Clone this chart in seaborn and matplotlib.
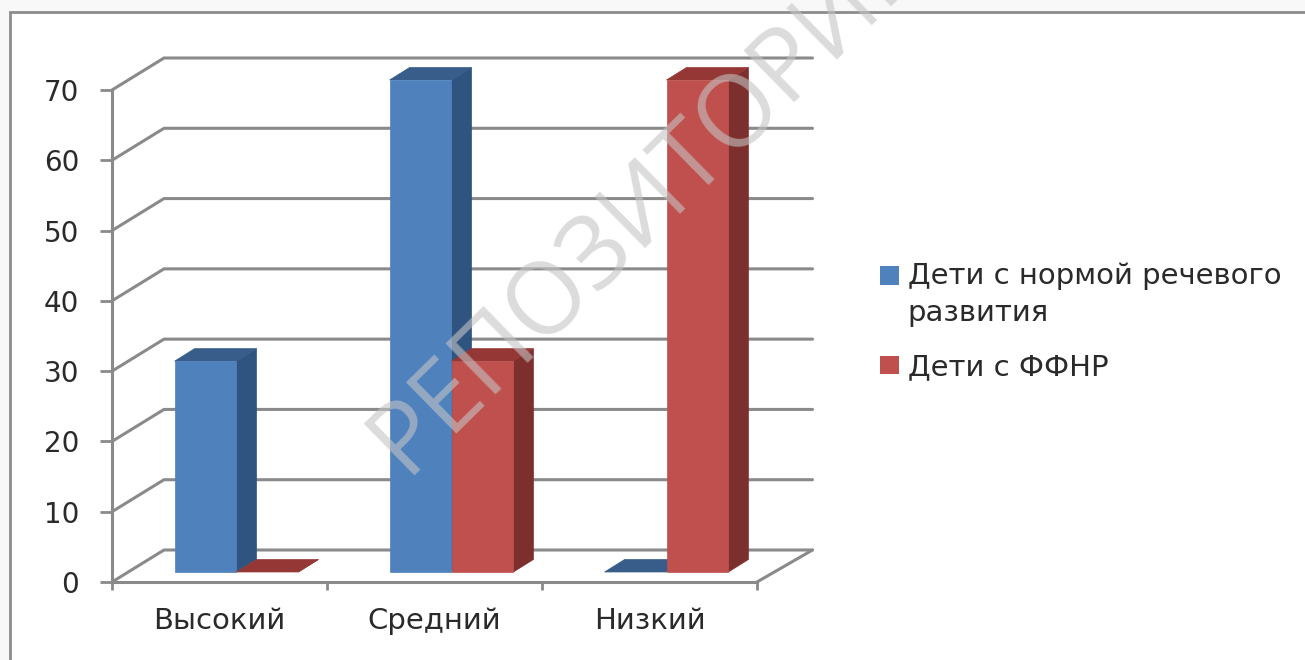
import matplotlib
matplotlib.use("Agg")
import matplotlib.pyplot as plt
from matplotlib.legend_handler import HandlerPatch
from matplotlib.patches import Polygon, Rectangle, Patch
import pandas as pd
import seaborn as sns

categories = ["Высокий", "Средний", "Низкий"]
series_names = ["Дети с нормой речевого\nразвития", "Дети с ФФНР"]
normal_values = [30, 70, 0]
ffnr_values = [0, 30, 70]
y_ticks = [0, 10, 20, 30, 40, 50, 60, 70]

front_colors = ["#4F81BD", "#C0504D"]
side_colors = ["#2F5480", "#7D2F2D"]
top_colors = ["#385D8A", "#953735"]
grid_color = "#8A8A8A"
text_color = "#2A2A2A"

W, H = 1305, 660
sns.set_theme(style="white")
plt.rcParams["font.family"] = ["DejaVu Sans"]

fig = plt.figure(figsize=(W / 100, H / 100), dpi=100, facecolor="#F8F8F8")
fig.add_artist(Rectangle((10 / W, -0.01), 1.01, 1.01 - 11.5 / H, transform=fig.transFigure,
                         facecolor="white", edgecolor="#8C8C8C", linewidth=2, zorder=-5))

L, R, BOT, TOP = 112, 757, 582, 90
ax = fig.add_axes([L / W, 1 - BOT / H, (R - L) / W, (BOT - TOP) / H])
ax.patch.set_alpha(0)

df = pd.DataFrame({
    "cat": categories * 2,
    "val": normal_values + ffnr_values,
    "ser": [series_names[0]] * 3 + [series_names[1]] * 3,
})
sns.barplot(data=df, x="cat", y="val", hue="ser", palette=front_colors, saturation=1,
            width=0.576, errorbar=None, legend=False, ax=ax, zorder=3, linewidth=0)
ax.set_xlim(-0.5, 2.5)
ax.set_ylim(0, 70)

xpx = 3 / (R - L)
ypx = 70 / (BOT - TOP)

# back wall gridlines and floor
wall_dx, wall_dy = 52 * xpx, 32 * ypx
right_dx = 55.5 * xpx
for v in y_ticks:
    ax.plot([-0.5, -0.5 + wall_dx, 2.5 + right_dx], [v, v + wall_dy, v + wall_dy],
            color=grid_color, lw=2.2, clip_on=False, zorder=1, solid_joinstyle="miter")
ax.plot([2.5, 2.5 + right_dx], [0, wall_dy], color=grid_color, lw=2.2, clip_on=False, zorder=1)

# 3-D extrusion of each bar
bar_dx, bar_dy = 17 * xpx, 10 * ypx
dep_x, dep_y = 20 * xpx, 12.5 * ypx
bars = list(ax.patches)
for i, bar in enumerate(bars):
    s = i // 3
    z = 3 + s + (i % 3) * 0.01
    bar.set_x(bar.get_x() + bar_dx)
    bar.set_y(bar.get_y() + bar_dy)
    bar.set_clip_on(False)
    x0, y0 = bar.get_x(), bar.get_y()
    x1, y1 = x0 + bar.get_width(), y0 + bar.get_height()
    ax.add_patch(Polygon([(x1, y0), (x1 + dep_x, y0 + dep_y), (x1 + dep_x, y1 + dep_y), (x1, y1)],
                         facecolor=side_colors[s], edgecolor=side_colors[s], linewidth=0.5,
                         clip_on=False, zorder=z))
    ax.add_patch(Polygon([(x0, y1), (x0 + dep_x, y1 + dep_y), (x1 + dep_x, y1 + dep_y), (x1, y1)],
                         facecolor=top_colors[s], edgecolor=top_colors[s], linewidth=0.5,
                         clip_on=False, zorder=z))
    bar.set_zorder(z + 0.001)
    bar.set_edgecolor(front_colors[s])
    bar.set_linewidth(0.5 if bar.get_height() > 0 else 0)

for side in ("top", "right"):
    ax.spines[side].set_visible(False)
for side in ("left", "bottom"):
    ax.spines[side].set_color(grid_color)
    ax.spines[side].set_linewidth(2.2)
    ax.spines[side].set_zorder(2)

ax.set_xlabel("")
ax.set_ylabel("")
ax.set_yticks(y_ticks)
ax.set_yticklabels([str(v) for v in y_ticks], fontsize=20, color=text_color)
ax.tick_params(axis="y", length=8.5, width=2, color=grid_color, pad=15, left=True)
ax.set_xticks([-0.5, 0.5, 1.5, 2.5], ["", "", "", ""])
ax.tick_params(axis="x", which="major", length=6, width=2, color=grid_color, bottom=True)
ax.set_xticks([0, 1, 2], categories, minor=True)
ax.tick_params(axis="x", which="minor", length=0, pad=18, labelsize=21, labelcolor=text_color)


def first_line_swatch(legend, orig_handle, xdescent, ydescent, width, height, fontsize):
    # keep the swatch beside the first line of the two-line label
    return Rectangle((-xdescent, -ydescent + 14.2), width, height)


handles = [Patch(facecolor=c, edgecolor="none") for c in front_colors]
leg = fig.legend(handles, series_names, loc="upper left", bbox_to_anchor=(880 / W, 1 - 262 / H),
                 frameon=False, fontsize=21, labelcolor=text_color, handlelength=0.65, handleheight=0.6,
                 handletextpad=0.3, labelspacing=0.9, borderpad=0, borderaxespad=0,
                 handler_map={handles[0]: HandlerPatch(patch_func=first_line_swatch)})
for t in leg.get_texts():
    t.set_linespacing(1.4)

fig.text(405 / W, 1 - 475 / H, "РЕПОЗИТОРИЙ", rotation=44.5, rotation_mode="anchor",
         ha="left", va="baseline", fontsize=72, color="#C4C4C4", alpha=0.6, zorder=10,
         family="Open Sans")

fig.savefig("out.png", dpi=100, facecolor=fig.get_facecolor())
